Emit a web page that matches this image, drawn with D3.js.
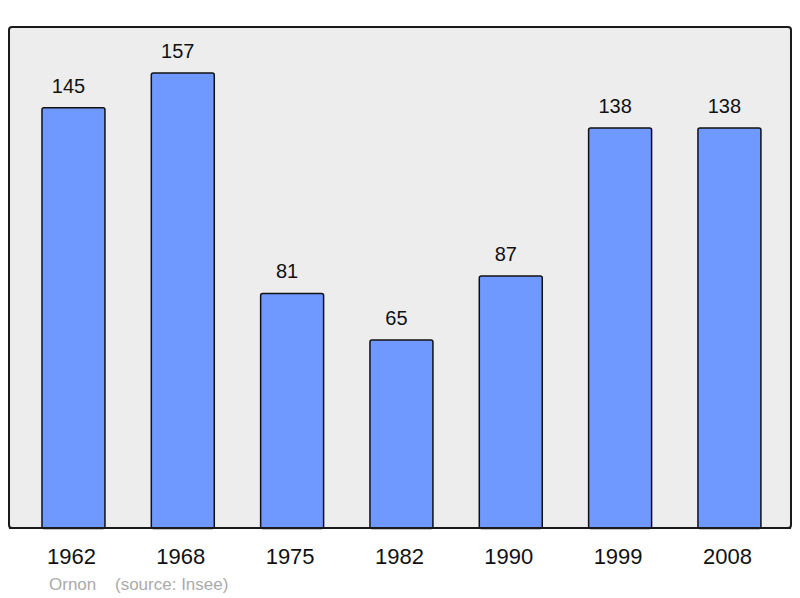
<!DOCTYPE html>
<html>
<head>
<meta charset="utf-8">
<script src="https://cdn.jsdelivr.net/npm/d3@7"></script>
<style>
  body { margin: 0; background: #fff; }
  text { font-family: "Liberation Sans", Arial, sans-serif; }
</style>
</head>
<body>
<div id="chart"></div>
<script>
var years = ["1962", "1968", "1975", "1982", "1990", "1999", "2008"];
var population = [145, 157, 81, 65, 87, 138, 138];
var commune = "Ornon";
var source = "(source: Insee)";

var width = 800, height = 598;
var frame = {left: 9, top: 27, right: 791, bottom: 528};

var svg = d3.select("#chart")
  .append("svg")
    .attr("width", width)
    .attr("height", height);

// plot background
svg.append("rect")
    .attr("x", frame.left)
    .attr("y", frame.top)
    .attr("width", frame.right - frame.left)
    .attr("height", frame.bottom - frame.top)
    .attr("rx", 3)
    .attr("fill", "#ededed")
    .attr("stroke", "#1a1a1a")
    .attr("stroke-width", 2);

var x = d3.scaleBand()
    .domain(years)
    .range([18.8, 784.1])
    .paddingInner(0.424)
    .paddingOuter(0.212);

var y = d3.scaleLinear()
    .domain([0, 157])
    .range([528.5, 73]);

var bars = svg.selectAll(".bar")
    .data(years)
    .enter()
    .append("g")
      .attr("class", "bar");

bars.append("rect")
    .attr("x", function(d) { return x(d); })
    .attr("y", function(d, i) { return y(population[i]); })
    .attr("width", x.bandwidth())
    .attr("height", function(d, i) { return y(0) - y(population[i]); })
    .attr("rx", 2)
    .attr("fill", "#7099ff")
    .attr("stroke", "#111")
    .attr("stroke-width", 1.5);

bars.append("text")
    .attr("x", function(d) { return x(d) + x.bandwidth() / 2 - 5; })
    .attr("y", function(d, i) { return y(population[i]) - 15; })
    .attr("text-anchor", "middle")
    .style("font-size", "20px")
    .attr("fill", "#111")
    .text(function(d, i) { return population[i]; });

// redraw bottom border over bars
svg.append("line")
    .attr("x1", frame.left)
    .attr("x2", frame.right)
    .attr("y1", frame.bottom)
    .attr("y2", frame.bottom)
    .attr("stroke", "#1a1a1a")
    .attr("stroke-width", 2);

var xAxis = svg.append("g")
    .attr("transform", "translate(-2," + frame.bottom + ")")
    .call(d3.axisBottom(x).tickSize(0).tickPadding(20));
xAxis.select(".domain").remove();
xAxis.selectAll("text")
    .style("font-size", "22px")
    .style("font-family", "'Liberation Sans', Arial, sans-serif")
    .attr("fill", "#111");

svg.append("text")
    .attr("x", 49)
    .attr("y", 590)
    .style("font-size", "17px")
    .attr("fill", "#aaaaaa")
    .text(commune);

svg.append("text")
    .attr("x", 115)
    .attr("y", 590)
    .style("font-size", "17px")
    .attr("fill", "#aaaaaa")
    .text(source);
</script>
</body>
</html>
